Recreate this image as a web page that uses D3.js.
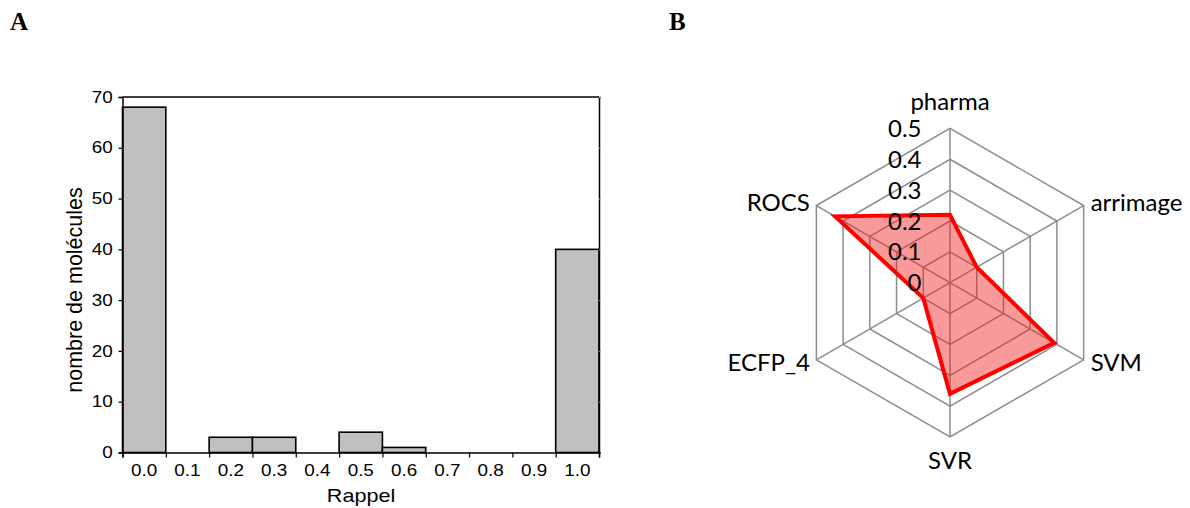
<!DOCTYPE html>
<html><head><meta charset="utf-8">
<script src="https://cdn.jsdelivr.net/npm/d3@7"></script>
<style>body{margin:0;background:#fff}svg{display:block}</style>
</head><body>
<svg id="c" width="1190" height="508"></svg>
<script>
// Panel A: histogram
const bins = ["0.0","0.1","0.2","0.3","0.4","0.5","0.6","0.7","0.8","0.9","1.0"];
const counts = [68,0,3,3,0,4,1,0,0,0,40];
const yTicks = [0,10,20,30,40,50,60,70];
// Panel B: radar
const axesNames = ["pharma","arrimage","SVM","SVR","ECFP_4","ROCS"];
const radarValues = [0.22,0.10,0.39,0.36,0.10,0.43];
const rTicks = [0,0.1,0.2,0.3,0.4,0.5];

const svg = d3.select("#c");

// panel letters
svg.append("text").attr("x",10).attr("y",30).text("A")
  .attr("font-family","Liberation Serif").attr("font-weight","bold").attr("font-size",25);
svg.append("text").attr("x",669).attr("y",29.5).text("B")
  .attr("font-family","Liberation Serif").attr("font-weight","bold").attr("font-size",25);

// ---------- Histogram ----------
const L=122.5, R=599, T=97, B=452.5;
const x = d3.scaleBand().domain(bins).range([L,R]).padding(0);
const xl = d3.scaleLinear().domain([0,bins.length]).range([L,R]);
const y = d3.scaleLinear().domain([0,70]).range([B,T]);
const hg = svg.append("g").attr("font-family","Liberation Sans, Arial");

hg.selectAll("rect.bar").data(counts).join("rect")
  .attr("x",(d,i)=>x(bins[i])).attr("width",x.bandwidth())
  .attr("y",d=>y(d)).attr("height",d=>B-y(d))
  .attr("fill","#c0c0c0").attr("stroke","#000").attr("stroke-width",1.6)
  .attr("display",d=>d>0?null:"none");

// frame top/right
hg.append("line").attr("x1",L).attr("x2",R).attr("y1",T).attr("y2",T).attr("stroke","#000").attr("stroke-width",1.3);
const yR = d3.axisRight(y).tickValues(yTicks).tickSize(2).tickFormat("");
hg.append("g").attr("transform",`translate(${R},0)`).call(yR)
  .call(g=>{g.select(".domain").attr("stroke","#000").attr("stroke-width",1.5);g.selectAll(".tick line").attr("stroke","#999");});

// left axis
const yA = d3.axisLeft(y).tickValues(yTicks).tickSize(4).tickPadding(5);
hg.append("g").attr("transform",`translate(${L},0)`).call(yA)
  .call(g=>{g.select(".domain").attr("stroke","#000").attr("stroke-width",1.5);
    g.selectAll(".tick line").attr("stroke","#000").attr("stroke-width",1.2);
    g.selectAll(".tick text").attr("font-size",16).attr("fill","#000").attr("font-family","Liberation Sans, Arial")
      .attr("transform","scale(1.18,1)").attr("x",-8.3);});

// bottom axis: boundary ticks
const xB = d3.axisBottom(xl).tickValues(d3.range(0,bins.length+1)).tickSize(5).tickFormat("");
hg.append("g").attr("transform",`translate(0,${B})`).call(xB)
  .call(g=>{g.select(".domain").attr("stroke","#000").attr("stroke-width",1.5);
    g.selectAll(".tick line").attr("stroke","#000").attr("stroke-width",1.2);});
// bottom labels
const xA = d3.axisBottom(x).tickSize(0).tickPadding(12);
hg.append("g").attr("transform",`translate(0,${B})`).call(xA)
  .call(g=>{g.select(".domain").remove();
    g.selectAll(".tick text").attr("font-size",16).attr("fill","#000").attr("font-family","Liberation Sans, Arial")
      .attr("transform","scale(1.18,1)");});

hg.append("text").attr("transform",`translate(361,501.5) scale(1.2,1)`).attr("text-anchor","middle")
  .attr("font-size",18).text("Rappel");
hg.append("text").attr("transform","translate(82,290) rotate(-90)").attr("text-anchor","middle")
  .attr("font-size",21.5).text("nombre de molécules");

// ---------- Radar ----------
const cx=950, cy=282.7, RR=154.3;
const r = d3.scaleLinear().domain([0,0.5]).range([0,RR]);
const ang = d3.scalePoint().domain(axesNames).range([0,2*Math.PI*5/6]);
const pt = (name,v)=>{const a=ang(name)-Math.PI/2;return [cx+r(v)*Math.cos(a), cy+r(v)*Math.sin(a)];};
const rg = svg.append("g");
const grid="#8c8c8c";
rg.selectAll("path.grid").data(rTicks.slice(1)).join("path")
  .attr("d",v=>d3.line()(axesNames.map(n=>pt(n,v)))+"Z")
  .attr("fill","none").attr("stroke",grid).attr("stroke-width",1.5);
rg.selectAll("line.spoke").data(axesNames).join("line")
  .attr("x1",cx).attr("y1",cy).attr("x2",n=>pt(n,0.5)[0]).attr("y2",n=>pt(n,0.5)[1])
  .attr("stroke",grid).attr("stroke-width",1.5);
rg.append("path").attr("d",d3.line()(axesNames.map((n,i)=>pt(n,radarValues[i])))+"Z")
  .attr("fill","rgba(240,30,30,0.45)").attr("stroke","#ff0000").attr("stroke-width",4).attr("stroke-linejoin","miter");
rg.selectAll("text.tk").data(rTicks).join("text")
  .attr("x",cx-28.5).attr("y",v=>cy-r(v)).attr("dy","0.36em").attr("text-anchor","end")
  .attr("font-family","Lato").attr("font-size",24).attr("fill","#000").text(v=>d3.format("")(v));
const labelPos = {
  pharma:{dx:0,dy:-18.5,anchor:"middle",base:"auto"},
  arrimage:{dx:7,dy:-3,anchor:"start"},
  SVM:{dx:7,dy:3,anchor:"start"},
  SVR:{dx:0,dy:32,anchor:"middle",base:"auto"},
  ECFP_4:{dx:-6.5,dy:3,anchor:"end"},
  ROCS:{dx:-6.5,dy:-3,anchor:"end"}
};
rg.selectAll("text.lab").data(axesNames).join("text")
  .attr("x",n=>pt(n,0.5)[0]+labelPos[n].dx)
  .attr("y",n=>pt(n,0.5)[1]+labelPos[n].dy)
  .attr("dy",n=>labelPos[n].base?"0":"0.36em")
  .attr("text-anchor",n=>labelPos[n].anchor)
  .attr("font-family","Lato").attr("font-size",24).attr("fill","#000").text(n=>n);
</script>
</body></html>
